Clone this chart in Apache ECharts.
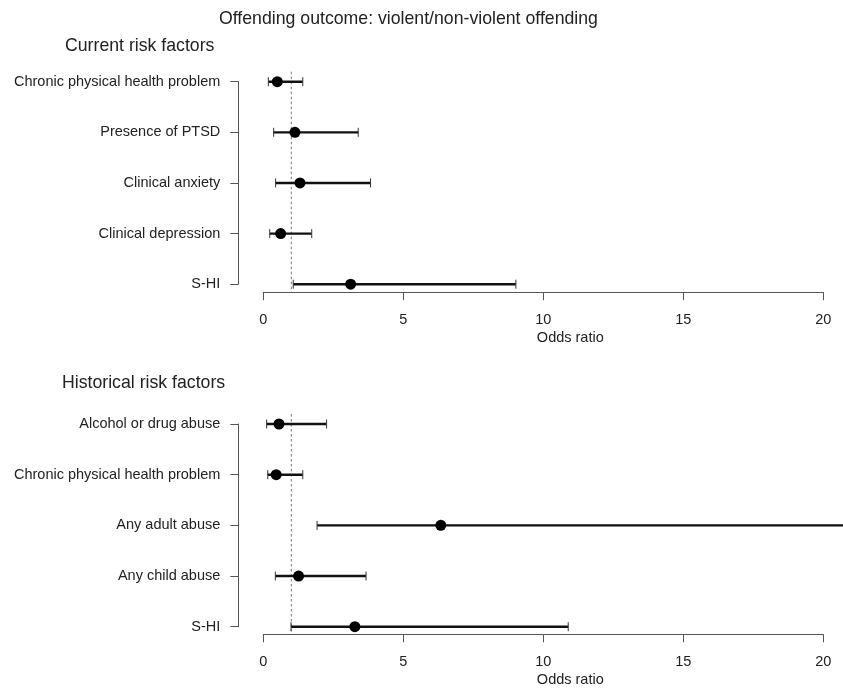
<!DOCTYPE html>
<html>
<head>
<meta charset="utf-8">
<script src="https://cdn.jsdelivr.net/npm/echarts@6/dist/echarts.min.js"></script>
<style>
  html, body { margin: 0; padding: 0; background: #fff; }
  #chart { width: 843px; height: 690px; }
</style>
</head>
<body>
<div id="chart"></div>
<script>
  // rows listed bottom to top (category axis starts at the bottom)
  const currentLabels = [ 'S-HI', 'Clinical depression', 'Clinical anxiety', 'Presence of PTSD', 'Chronic physical health problem' ]
  const currentOR = [ 3.12, 0.62, 1.31, 1.13, 0.5 ]
  const currentLower = [ 1.07, 0.23, 0.44, 0.37, 0.18 ]
  const currentUpper = [ 9.02, 1.73, 3.83, 3.39, 1.41 ]

  const historicalLabels = [ 'S-HI', 'Any child abuse', 'Any adult abuse', 'Chronic physical health problem', 'Alcohol or drug abuse' ]
  const historicalOR = [ 3.27, 1.26, 6.34, 0.46, 0.56 ]
  const historicalLower = [ 0.99, 0.43, 1.92, 0.16, 0.12 ]
  const historicalUpper = [ 10.89, 3.67, 24, 1.41, 2.26 ]

  const xTicks = [ 0, 5, 10, 15, 20 ]
  const refLine = 1

  const font = 'Liberation Sans, Arial, Helvetica, sans-serif'
  const textColor = '#222'
  const axisColor = '#555'

  function rows(or, lo, hi) {
    return or.map((v, i) => [ lo[ i ], hi[ i ], v, i ])
  }

  function renderBar(params, api) {
    const y = api.value(3)
    const a = api.coord([ api.value(0), y ])
    const b = api.coord([ api.value(1), y ])
    const p = api.coord([ api.value(2), y ])
    const cap = 4.5
    return {
      type: 'group',
      children: [
        { type: 'line', shape: { x1: a[ 0 ], y1: a[ 1 ], x2: b[ 0 ], y2: b[ 1 ] }, style: { stroke: '#111', lineWidth: 2.4 } },
        { type: 'line', shape: { x1: a[ 0 ], y1: a[ 1 ] - cap, x2: a[ 0 ], y2: a[ 1 ] + cap }, style: { stroke: '#333', lineWidth: 1 } },
        { type: 'line', shape: { x1: b[ 0 ], y1: b[ 1 ] - cap, x2: b[ 0 ], y2: b[ 1 ] + cap }, style: { stroke: '#333', lineWidth: 1 } },
        { type: 'circle', shape: { cx: p[ 0 ], cy: p[ 1 ], r: 5.5 }, style: { fill: '#000' } }
      ]
    }
  }

  function renderRef(n) {
    return function (params, api) {
      const top = api.coord([ api.value(0), n - 1 ])
      const bottom = api.coord([ api.value(0), 0 ])
      return {
        type: 'line',
        shape: { x1: top[ 0 ], y1: top[ 1 ] - 10, x2: bottom[ 0 ], y2: bottom[ 1 ] + 8 },
        style: { stroke: '#777', lineWidth: 1, lineDash: [ 2.5, 2.5 ] }
      }
    }
  }

  function xAxis(gridIndex, offset) {
    return {
      gridIndex: gridIndex,
      type: 'value',
      min: xTicks[ 0 ],
      max: xTicks[ xTicks.length - 1 ],
      interval: 5,
      offset: offset,
      name: 'Odds ratio',
      nameLocation: 'middle',
      nameGap: 38,
      nameTextStyle: { fontFamily: font, fontSize: 14.5, color: textColor, padding: [ 0, 0, 0, 54 ] },
      axisLine: { show: true, onZero: false, lineStyle: { color: axisColor, width: 1 } },
      axisTick: { show: true, length: 8, lineStyle: { color: axisColor } },
      axisLabel: { margin: 20, fontFamily: font, fontSize: 14.5, color: textColor },
      splitLine: { show: false }
    }
  }

  function yAxis(gridIndex, labels) {
    return {
      gridIndex: gridIndex,
      type: 'category',
      data: labels,
      boundaryGap: false,
      offset: 25,
      axisLine: { show: true, onZero: false, lineStyle: { color: axisColor, width: 1 } },
      axisTick: { show: true, length: 8, alignWithLabel: true, lineStyle: { color: axisColor } },
      axisLabel: { margin: 18, fontFamily: font, fontSize: 14.5, color: textColor },
      splitLine: { show: false }
    }
  }

  const chart = echarts.init(document.getElementById('chart'))
  chart.setOption({
    animation: false,
    title: [
      { text: 'Offending outcome: violent/non-violent offending', left: 219, top: 10, padding: 0,
        textStyle: { fontFamily: font, fontSize: 17.7, fontWeight: 'normal', color: textColor } },
      { text: 'Current risk factors', left: 65, top: 37, padding: 0,
        textStyle: { fontFamily: font, fontSize: 17.7, fontWeight: 'normal', color: textColor } },
      { text: 'Historical risk factors', left: 62, top: 374, padding: 0,
        textStyle: { fontFamily: font, fontSize: 17.7, fontWeight: 'normal', color: textColor } }
    ],
    grid: [
      { left: 263.3, right: 19.7, top: 81.7, height: 202.5 },
      { left: 263.3, right: 19.7, top: 424, height: 202.7 }
    ],
    xAxis: [ xAxis(0, 8), xAxis(1, 7.6) ],
    yAxis: [ yAxis(0, currentLabels), yAxis(1, historicalLabels) ],
    series: [
      { type: 'custom', xAxisIndex: 0, yAxisIndex: 0, clip: false, renderItem: renderRef(currentLabels.length), data: [ [ refLine ] ], z: 1 },
      { type: 'custom', xAxisIndex: 1, yAxisIndex: 1, clip: false, renderItem: renderRef(historicalLabels.length), data: [ [ refLine ] ], z: 1 },
      { type: 'custom', xAxisIndex: 0, yAxisIndex: 0, clip: false, renderItem: renderBar,
        encode: { x: [ 0, 1, 2 ], y: 3 }, data: rows(currentOR, currentLower, currentUpper), z: 2 },
      { type: 'custom', xAxisIndex: 1, yAxisIndex: 1, clip: false, renderItem: renderBar,
        encode: { x: [ 0, 1, 2 ], y: 3 }, data: rows(historicalOR, historicalLower, historicalUpper), z: 2 }
    ]
  })
</script>
</body>
</html>
